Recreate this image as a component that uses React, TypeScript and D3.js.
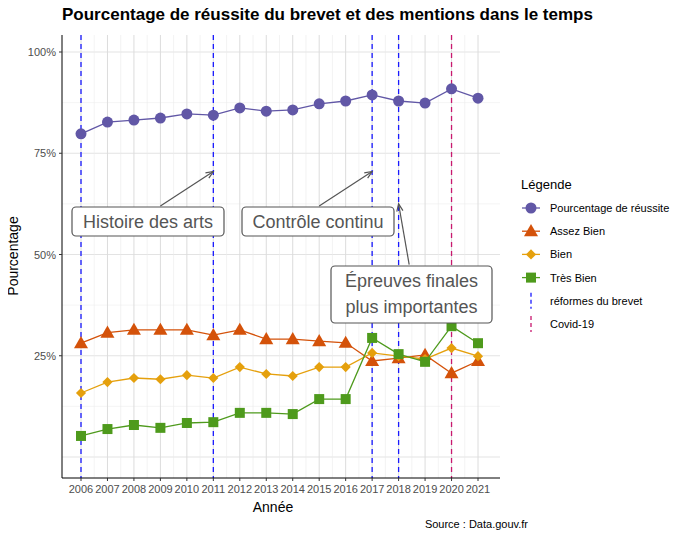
import { useEffect, useRef } from 'react';
import * as d3 from 'd3';

const years = d3.range(2006, 2022);
const reussite = [79.8, 82.7, 83.2, 83.7, 84.7, 84.4, 86.2, 85.4, 85.7, 87.2, 87.9, 89.4, 87.9, 87.4, 90.9, 88.6];
const assezBien = [28.1, 30.7, 31.4, 31.4, 31.4, 30.1, 31.4, 29.1, 29.1, 28.6, 28.2, 23.7, 24.4, 25.2, 20.7, 23.7];
const bien = [15.8, 18.5, 19.5, 19.2, 20.2, 19.5, 22.2, 20.5, 20.0, 22.2, 22.2, 25.7, 24.9, 24.2, 26.9, 24.9];
const tresBien = [5.2, 6.9, 7.9, 7.2, 8.4, 8.6, 10.9, 10.9, 10.6, 14.3, 14.3, 29.4, 25.4, 23.5, 32.3, 28.1];
const reformes = [2006, 2011, 2017, 2018];
const covid = [2020];
const yTicks = [25, 50, 75, 100];

const series = [
  { name: 'Pourcentage de réussite', values: reussite, color: '#6157a6', shape: 'circle' },
  { name: 'Assez Bien', values: assezBien, color: '#d4520a', shape: 'triangle' },
  { name: 'Bien', values: bien, color: '#e5a00d', shape: 'diamond' },
  { name: 'Très Bien', values: tresBien, color: '#4e9a1c', shape: 'square' },
];

const notes = [
  { lines: ['Histoire des arts'], box: [72, 207, 152, 29], from: [2009, 62], to: [2011, 70.5] },
  { lines: ['Contrôle continu'], box: [242, 207, 152, 29], from: [2015, 62], to: [2017, 70.5] },
  { lines: ['Épreuves finales', 'plus importantes'], box: [331, 266, 161, 57], from: [2018.4, 47.5], to: [2018, 62.5] },
];

export default function App() {
  const ref = useRef<SVGSVGElement>(null);

  useEffect(() => {
    const svg = d3.select(ref.current!);
    svg.selectAll('*').remove();
    const font = 'Liberation Sans, Arial, sans-serif';
    const left = 62, right = 500, top = 35, bottom = 478;
    const x = d3.scaleLinear().domain([2006, 2021]).range([81, 478]);
    const y = d3.scaleLinear().domain([0, 100]).range([457, 52]);

    svg.append('rect').attr('width', 692).attr('height', 539).attr('fill', 'white');

    // grid
    d3.range(0, 101, 12.5).forEach((v) => {
      svg.append('line').attr('x1', left).attr('x2', right).attr('y1', y(v)).attr('y2', y(v))
        .attr('stroke', v % 25 === 0 ? '#e3e3e3' : '#efefef').attr('stroke-width', v % 25 === 0 ? 1 : 0.6);
    });
    years.forEach((yr) => {
      svg.append('line').attr('x1', x(yr)).attr('x2', x(yr)).attr('y1', top).attr('y2', bottom)
        .attr('stroke', '#dcdcdc');
      if (yr < 2021) svg.append('line').attr('x1', x(yr + 0.5)).attr('x2', x(yr + 0.5)).attr('y1', top).attr('y2', bottom)
        .attr('stroke', '#ebebeb').attr('stroke-width', 0.6);
    });

    // vertical event lines
    reformes.forEach((yr) => svg.append('line').attr('x1', x(yr)).attr('x2', x(yr)).attr('y1', top).attr('y2', bottom)
      .attr('stroke', '#1a1aff').attr('stroke-width', 1.3).attr('stroke-dasharray', '5,4'));
    covid.forEach((yr) => svg.append('line').attr('x1', x(yr)).attr('x2', x(yr)).attr('y1', top).attr('y2', bottom)
      .attr('stroke', '#c8186e').attr('stroke-width', 1.3).attr('stroke-dasharray', '5,4'));

    const marker = (g: any, shape: string, cx: number, cy: number, color: string) => {
      if (shape === 'circle') g.append('circle').attr('cx', cx).attr('cy', cy).attr('r', 5.5).attr('fill', color);
      else if (shape === 'triangle') g.append('path').attr('d', d3.symbol(d3.symbolTriangle, 85)()).attr('transform', `translate(${cx},${cy + 1})`).attr('fill', color);
      else if (shape === 'diamond') g.append('rect').attr('x', -3.6).attr('y', -3.6).attr('width', 7.2).attr('height', 7.2)
        .attr('transform', `translate(${cx},${cy}) rotate(45)`).attr('fill', color);
      else g.append('rect').attr('x', cx - 5).attr('y', cy - 5).attr('width', 10).attr('height', 10).attr('fill', color);
    };

    const line = d3.line<number>().x((_, i) => x(years[i])).y((d) => y(d));
    series.forEach((s) => {
      svg.append('path').attr('d', line(s.values)).attr('fill', 'none').attr('stroke', s.color).attr('stroke-width', 1.3);
      s.values.forEach((v, i) => marker(svg, s.shape, x(years[i]), y(v), s.color));
    });

    // annotations
    notes.forEach((n) => {
      svg.append('line').attr('x1', x(n.from[0])).attr('y1', y(n.from[1])).attr('x2', x(n.to[0])).attr('y2', y(n.to[1]))
        .attr('stroke', '#555').attr('stroke-width', 1.2);
      const tx = x(n.to[0]), ty = y(n.to[1]);
      const ang = Math.atan2(ty - y(n.from[1]), tx - x(n.from[0]));
      const a1 = ang + Math.PI - 0.4, a2 = ang + Math.PI + 0.4;
      svg.append('path').attr('d', `M${tx + 8 * Math.cos(a1)},${ty + 8 * Math.sin(a1)}L${tx},${ty}L${tx + 8 * Math.cos(a2)},${ty + 8 * Math.sin(a2)}`)
        .attr('fill', 'none').attr('stroke', '#555').attr('stroke-width', 1.2);
      const [bx, by, bw, bh] = n.box;
      svg.append('rect').attr('x', bx).attr('y', by).attr('width', bw).attr('height', bh).attr('rx', 4)
        .attr('fill', 'white').attr('stroke', '#555').attr('stroke-width', 1.2);
      n.lines.forEach((t, i) => svg.append('text').attr('x', bx + bw / 2).attr('y', by + 21 + i * 26)
        .attr('text-anchor', 'middle').attr('font-family', font).attr('font-size', 18).attr('fill', '#555').text(t));
    });

    // axes
    svg.append('line').attr('x1', left).attr('x2', left).attr('y1', top).attr('y2', bottom).attr('stroke', 'black');
    svg.append('line').attr('x1', left).attr('x2', right).attr('y1', bottom).attr('y2', bottom).attr('stroke', 'black');
    yTicks.forEach((v) => {
      svg.append('line').attr('x1', left - 3).attr('x2', left).attr('y1', y(v)).attr('y2', y(v)).attr('stroke', '#333');
      svg.append('text').attr('x', left - 6).attr('y', y(v) + 4).attr('text-anchor', 'end')
        .attr('font-family', font).attr('font-size', 11).attr('fill', '#4d4d4d').text(`${v}%`);
    });
    years.forEach((yr) => {
      svg.append('line').attr('x1', x(yr)).attr('x2', x(yr)).attr('y1', bottom).attr('y2', bottom + 3).attr('stroke', '#333');
      svg.append('text').attr('x', x(yr)).attr('y', bottom + 15).attr('text-anchor', 'middle')
        .attr('font-family', font).attr('font-size', 11).attr('fill', '#4d4d4d').text(String(yr));
    });

    svg.append('text').attr('x', 62).attr('y', 20).attr('font-family', font).attr('font-size', 17).attr('font-weight', 'bold')
      .text('Pourcentage de réussite du brevet et des mentions dans le temps');
    svg.append('text').attr('x', 273).attr('y', 512).attr('text-anchor', 'middle').attr('font-family', font).attr('font-size', 14).text('Année');
    svg.append('text').attr('transform', 'translate(18,256) rotate(-90)').attr('text-anchor', 'middle')
      .attr('font-family', font).attr('font-size', 14).text('Pourcentage');
    svg.append('text').attr('x', 528).attr('y', 528).attr('text-anchor', 'end').attr('font-family', font).attr('font-size', 11).text('Source : Data.gouv.fr');

    // legend
    svg.append('text').attr('x', 521).attr('y', 189).attr('font-family', font).attr('font-size', 13).text('Légende');
    const items = [...series.map((s) => ({ name: s.name, color: s.color, shape: s.shape })),
      { name: 'réformes du brevet', color: '#1a1aff', shape: 'vline' },
      { name: 'Covid-19', color: '#c8186e', shape: 'vline' }];
    items.forEach((it, i) => {
      const cy = 208 + i * 23.2;
      if (it.shape === 'vline') {
        svg.append('line').attr('x1', 531).attr('x2', 531).attr('y1', cy - 8).attr('y2', cy + 8)
          .attr('stroke', it.color).attr('stroke-width', 1.3).attr('stroke-dasharray', '4,3');
      } else {
        svg.append('line').attr('x1', 522).attr('x2', 540).attr('y1', cy).attr('y2', cy).attr('stroke', it.color).attr('stroke-width', 1.3);
        marker(svg, it.shape, 531, cy, it.color);
      }
      svg.append('text').attr('x', 550).attr('y', cy + 4).attr('font-family', font).attr('font-size', 11).text(it.name);
    });
  }, []);

  return <svg ref={ref} width={692} height={539} style={{ display: 'block', margin: -8 }} />;
}
